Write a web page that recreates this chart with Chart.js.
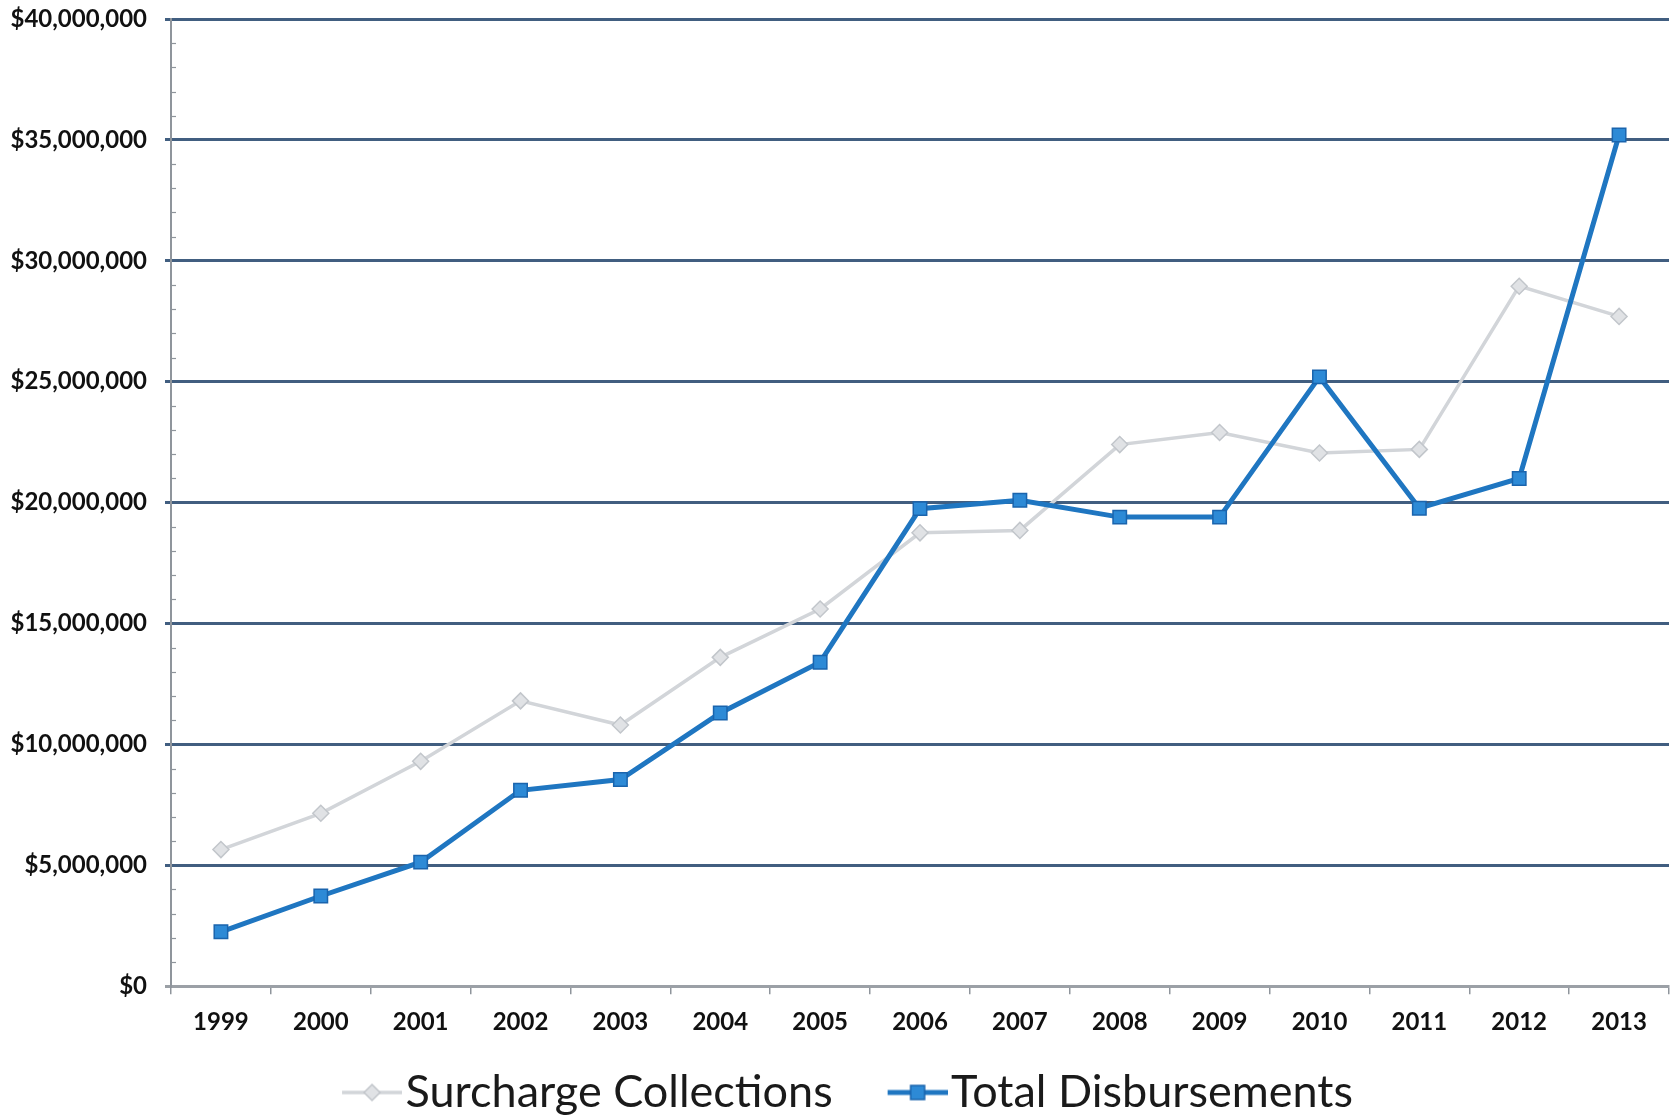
<!DOCTYPE html>
<html>
<head>
<meta charset="utf-8">
<title>Surcharge Collections vs Total Disbursements</title>
<script src="https://cdn.jsdelivr.net/npm/chart.js@4.4.1/dist/chart.umd.min.js"></script>
<style>
html, body { margin: 0; padding: 0; background: #fff; overflow: hidden; }
#wrap { width: 1680px; height: 1117px; }
</style>
</head>
<body>
<div id="wrap"><canvas id="chart"></canvas></div>
<script>
const years = ['1999', '2000', '2001', '2002', '2003', '2004', '2005', '2006',
               '2007', '2008', '2009', '2010', '2011', '2012', '2013'];

// dollars
const surchargeCollections = [5650000, 7150000, 9300000, 11800000, 10800000, 13600000, 15600000, 18750000,
                              18850000, 22400000, 22900000, 22050000, 22200000, 28950000, 27700000];
const totalDisbursements = [2250000, 3730000, 5130000, 8100000, 8550000, 11300000, 13400000, 19750000,
                            20100000, 19400000, 19400000, 25200000, 19770000, 21000000, 35200000];

const yMax = 40000000;
const yStep = 5000000;
const yMinorStep = 1000000;

const GREY = '#d2d5d9';
const GREY_EDGE = '#c2c6cb';
const BLUE = '#1f76c1';
const BLUE_FILL = '#2d8ad6';
const BLUE_EDGE = '#1a64ad';
const GRID = '#415e80';
const AXIS = '#8f959c';

Chart.defaults.font.family = 'Lato, "Open Sans", sans-serif';
Chart.defaults.color = '#111';

// legend sample: short line with the marker, drawn on the right part of the image
function legendSample(kind) {
    const c = document.createElement('canvas');
    c.width = 124;
    c.height = 26;
    const ctx = c.getContext('2d');
    const x0 = 64, x1 = 124, cx = 94, cy = 13;
    if (kind === 'grey') {
        ctx.strokeStyle = GREY;
        ctx.lineWidth = 3.5;
        ctx.beginPath(); ctx.moveTo(x0, cy); ctx.lineTo(x1, cy); ctx.stroke();
        ctx.fillStyle = '#e0e2e5';
        ctx.strokeStyle = GREY_EDGE;
        ctx.lineWidth = 1.5;
        ctx.beginPath();
        ctx.moveTo(cx, cy - 8); ctx.lineTo(cx + 8, cy); ctx.lineTo(cx, cy + 8); ctx.lineTo(cx - 8, cy);
        ctx.closePath(); ctx.fill(); ctx.stroke();
    } else {
        ctx.strokeStyle = BLUE;
        ctx.lineWidth = 5;
        ctx.beginPath(); ctx.moveTo(x0, cy); ctx.lineTo(x1, cy); ctx.stroke();
        ctx.fillStyle = BLUE_FILL;
        ctx.strokeStyle = BLUE_EDGE;
        ctx.lineWidth = 1.5;
        ctx.fillRect(cx - 7, cy - 7, 14, 14);
        ctx.strokeRect(cx - 7, cy - 7, 14, 14);
    }
    return c;
}
const samples = [legendSample('grey'), legendSample('blue')];

// small inside ticks every $1M on the value axis
const minorTicks = {
    id: 'minorTicks',
    afterDatasetsDraw(chart) {
        const y = chart.scales.y;
        const ctx = chart.ctx;
        const left = chart.chartArea.left;
        ctx.save();
        ctx.strokeStyle = AXIS;
        ctx.lineWidth = 1.2;
        for (let v = yMinorStep; v < yMax; v += yMinorStep) {
            if (v % yStep === 0) continue;
            const py = Math.round(y.getPixelForValue(v)) + 0.5;
            ctx.beginPath();
            ctx.moveTo(left, py);
            ctx.lineTo(left + 5, py);
            ctx.stroke();
        }
        ctx.restore();
    }
};

// the legend row sits a little left of the canvas centre
const legendNudge = {
    id: 'legendNudge',
    afterLayout(chart) {
        chart.legend.left -= 15;
        chart.legend.right -= 15;
    }
};

new Chart(document.getElementById('chart'), {
    type: 'line',
    data: {
        labels: years,
        datasets: [{
            label: 'Surcharge Collections',
            data: surchargeCollections,
            borderColor: GREY,
            borderWidth: 3.5,
            pointStyle: 'rectRot',
            pointRadius: 8,
            pointBackgroundColor: '#e0e2e5',
            pointBorderColor: GREY_EDGE,
            pointBorderWidth: 1.5,
            tension: 0,
            order: 2
        }, {
            label: 'Total Disbursements',
            data: totalDisbursements,
            borderColor: BLUE,
            borderWidth: 5,
            pointStyle: 'rect',
            pointRadius: 9.5,
            pointBackgroundColor: BLUE_FILL,
            pointBorderColor: BLUE_EDGE,
            pointBorderWidth: 1.5,
            tension: 0,
            order: 1
        }]
    },
    options: {
        responsive: true,
        maintainAspectRatio: false,
        animation: false,
        layout: { padding: { top: 19, left: 0, right: 0, bottom: -8 } },
        plugins: {
            tooltip: { enabled: false },
            legend: {
                position: 'bottom',
                labels: {
                    usePointStyle: true,
                    pointStyleWidth: 86,
                    padding: 10,
                    color: '#1a1a1a',
                    font: { size: 45, weight: 'normal' },
                    sort: (a, b) => a.datasetIndex - b.datasetIndex,
                    generateLabels(chart) {
                        const items = Chart.defaults.plugins.legend.labels.generateLabels(chart);
                        items.forEach(it => { it.pointStyle = samples[it.datasetIndex]; });
                        return items;
                    }
                }
            }
        },
        scales: {
            x: {
                offset: true,
                afterFit(scale) { scale.height += 9; },
                grid: {
                    offset: true,
                    drawOnChartArea: false,
                    drawTicks: true,
                    tickLength: 8,
                    color: AXIS,
                    lineWidth: 1.5
                },
                border: { color: '#9ba0a6', width: 2.5 },
                ticks: {
                    padding: 14,
                    color: '#111',
                    font: { size: 24, weight: 'bold' }
                }
            },
            y: {
                min: 0,
                max: yMax,
                afterFit(scale) {
                    scale.width = 171;
                    scale.paddingTop = 0;
                },
                grid: {
                    color: ctx => ctx.tick && ctx.tick.value === 0 ? '#9ba0a6' : GRID,
                    lineWidth: 3,
                    tickLength: 6
                },
                border: { color: AXIS, width: 2 },
                ticks: {
                    stepSize: yStep,
                    padding: 18,
                    color: '#111',
                    font: { size: 24, weight: 'bold' },
                    callback: v => '$' + Number(v).toLocaleString('en-US')
                }
            }
        }
    },
    plugins: [minorTicks, legendNudge]
});
</script>
</body>
</html>
